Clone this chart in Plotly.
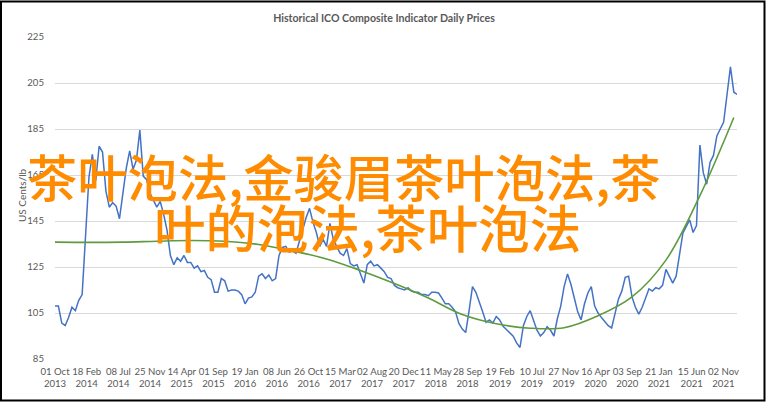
import pandas as pd
import plotly.graph_objects as go

# ---------------- data ----------------
start_date = "2013-10-01"
step = "15D"

price = [
    108, 108, 100.6, 99.5, 103, 107.5, 106, 110.5, 113, 138,
    164, 174, 162.5, 177.5, 175, 158, 151, 153, 151.5, 146,
    158, 168, 175.5, 167.5, 171.5, 184.5, 164.5, 163, 157, 154,
    151, 153.5, 148, 141, 130, 126, 129, 127.5, 130, 127,
    127, 124.5, 125.5, 123, 123.5, 120.5, 119.5, 114, 114, 120,
    119, 114.5, 115, 115, 114.5, 113, 109, 111.5, 112, 114,
    121, 122, 120, 121.5, 119, 120, 130, 133.5, 134, 131.5,
    132, 131, 136, 142, 146.5, 150.5, 144.5, 140, 134, 137,
    134, 144, 137, 134, 131, 130, 133, 126.5, 125.5, 126,
    122, 118, 126, 127.5, 125.5, 126, 124.5, 123, 120.5, 120,
    117, 116, 115.5, 115, 116, 114.5, 114, 114, 113, 113,
    112.5, 114, 114, 113.7, 111.5, 109, 109, 107.5, 105.5, 100.5,
    98, 96.5, 106, 116.5, 114, 110, 105.5, 101, 102, 100.6,
    103.5, 102, 99.2, 97.8, 96.3, 94.9, 92, 90, 99.5, 103.5,
    106, 101.5, 97.5, 95, 96.5, 99, 97.5, 95, 102.5, 108,
    116.5, 122, 117.5, 111.5, 105.5, 102, 109, 113.7, 116.5, 108,
    105, 103, 101, 99.5, 98.5, 105, 111, 114.5, 120.5, 121,
    112, 107.5, 104.5, 107.5, 111.5, 115.5, 114.5, 116, 115.5, 117,
    124, 121, 118, 121, 129.5, 139.8, 142.7, 145.5, 140, 143,
    178, 166, 161, 170.5, 173.5, 182, 185, 188, 200, 212,
    201, 200,
]

trend = [
    135.8, 135.7, 135.8, 136.2, 136.5, 136.2, 134.8, 132.0, 128.5, 123.5,
    117.8, 111.5, 104.3, 100.3, 98.4, 98.6, 103.8, 112.0, 128.0, 156.0,
    190.0,
]
trend_every = 10

tick_dates = [
    "2013-10-01", "2014-02-18", "2014-07-08", "2014-11-25", "2015-04-14",
    "2015-09-01", "2016-01-19", "2016-06-08", "2016-10-26", "2017-03-15",
    "2017-08-02", "2017-12-20", "2018-05-11", "2018-09-28", "2019-02-19",
    "2019-07-10", "2019-11-27", "2020-04-16", "2020-09-03", "2021-01-21",
    "2021-06-15", "2021-11-02",
]
tick_labels = [
    "01 Oct<br>2013", "18 Feb<br>2014", "08 Jul<br>2014", "25 Nov<br>2014",
    "14 Apr<br>2015", "01 Sep<br>2015", "19 Jan<br>2016", "08 Jun<br>2016",
    "26 Oct<br>2016", "15 Mar<br>2017", "02 Aug<br>2017", "20 Dec<br>2017",
    "11 May<br>2018", "28 Sep<br>2018", "19 Feb<br>2019", "10 Jul<br>2019",
    "27 Nov<br>2019", "16 Apr<br>2020", "03 Sep<br>2020", "21 Jan<br>2021",
    "15 Jun<br>2021", "02 Nov<br>2021",
]
y_ticks = [85, 105, 125, 145, 165, 185, 205, 225]

title_text = "Historical ICO Composite Indicator Daily Prices"
y_title = "US Cents/lb"
overlay_line1 = "茶叶泡法,金骏眉茶叶泡法,茶"
overlay_line2 = "叶的泡法,茶叶泡法"

# ---------------- figure ----------------
dates = pd.date_range(start_date, periods=len(price), freq=step)
trend_dates = dates[::trend_every][:len(trend)]

W, H = 766, 402
ML, MR, MT, MB = 55, 29, 37, 43
PW, PH = W - ML - MR, H - MT - MB

def px_x(x):
    return (x - ML) / PW

def px_y(y):
    return (H - MB - y) / PH

fig = go.Figure()
fig.add_trace(go.Scatter(
    x=dates, y=price, mode="lines",
    line=dict(color="#4472C4", width=1.5),
    showlegend=False,
))
fig.add_trace(go.Scatter(
    x=trend_dates, y=trend, mode="lines",
    line=dict(color="#5E9B3E", width=1.6, shape="spline"),
    showlegend=False,
))

grey = "#595959"
fig.update_layout(
    width=W, height=H,
    margin=dict(l=ML, r=MR, t=MT, b=MB),
    paper_bgcolor="white", plot_bgcolor="white",
    font=dict(family="Lato, sans-serif", color=grey, size=10),
    title=dict(
        text=title_text, x=384 / W, xref="container", xanchor="center",
        y=1 - 18 / H, yref="container", yanchor="middle",
        font=dict(family="Lato, sans-serif", size=10.6, color=grey, weight="bold"),
    ),
    xaxis=dict(
        type="date", range=[start_date, "2022-01-01"],
        tickmode="array", tickvals=tick_dates, ticktext=tick_labels,
        tickangle=0,
        showgrid=False, zeroline=False, showline=False, ticks="",
        tickfont=dict(size=9.6, color=grey), ticklabelstandoff=5,
    ),
    yaxis=dict(
        range=[85, 225], tickmode="array", tickvals=y_ticks,
        showgrid=True, gridcolor="#D9D9D9", gridwidth=1,
        zeroline=False, showline=False, ticks="",
        tickfont=dict(size=9.6, color=grey), ticklabelstandoff=10,
    ),
)

fig.add_annotation(
    text=y_title, textangle=-90, xref="paper", yref="paper",
    x=px_x(22), y=px_y(195), xanchor="center", yanchor="middle",
    showarrow=False, font=dict(size=10, color=grey),
)

orange = "#FF8C00"
cjk = "Noto Sans CJK SC"
fig.add_annotation(
    text=overlay_line1, xref="paper", yref="paper",
    x=px_x(343.5), y=px_y(175), xanchor="center", yanchor="middle",
    showarrow=False, font=dict(family=cjk, size=50.3, color=orange, weight=500),
)
fig.add_annotation(
    text=overlay_line2, xref="paper", yref="paper",
    x=px_x(367), y=px_y(225.5), xanchor="center", yanchor="middle",
    showarrow=False, font=dict(family=cjk, size=51.5, color=orange, weight=500),
)

fig.add_shape(
    type="rect", xref="paper", yref="paper",
    x0=px_x(1), x1=px_x(764.5), y0=px_y(400.5), y1=px_y(1.5),
    line=dict(color="black", width=2), layer="above",
)

fig.write_html(
    "out.html",
    config={"displayModeBar": False},
    post_script="document.body.style.margin='0';document.body.style.overflow='hidden';",
)
